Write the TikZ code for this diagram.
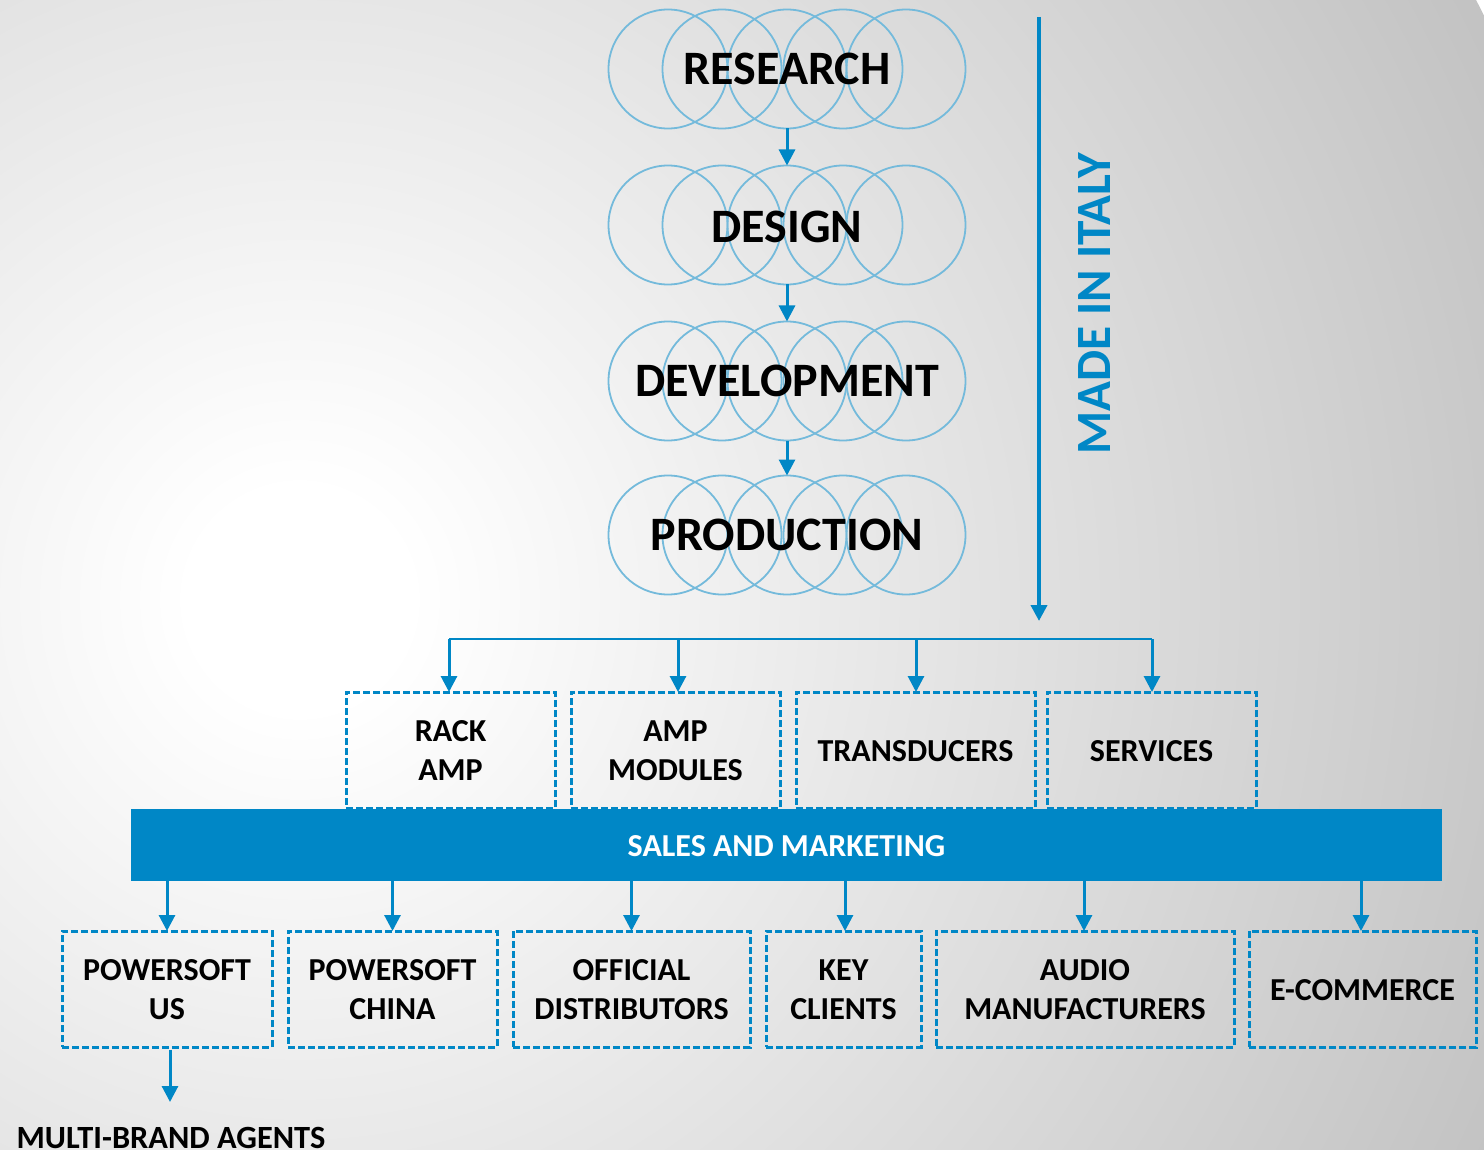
\documentclass[tikz,border=0pt]{standalone}
\usepackage{fontspec}
\setmainfont{Carlito}
\usetikzlibrary{arrows.meta,calc}
\definecolor{pblue}{HTML}{0087C6}
\definecolor{ringblue}{HTML}{74BADB}
\tikzset{
  ring/.style={circle,draw=ringblue,line width=1.8pt,minimum size=119pt,inner sep=0pt,outer sep=0pt},
  stage/.style={font=\bfseries\fontsize{48}{52}\selectfont,text=black,inner sep=0pt},
  dbox/.style={draw=pblue,line width=3pt,dash pattern=on 7pt off 3pt,inner sep=0pt,outer sep=0pt,anchor=north west},
  boxtext/.style={font=\bfseries\fontsize{32}{39}\selectfont,align=center,inner sep=0pt,text=black},
  arr/.style={draw=pblue,line width=3pt,-{Triangle[length=16pt,width=16pt]}},
  thin line/.style={draw=pblue,line width=1.8pt}
}
\newcommand{\pbox}[6]{\node[dbox,minimum width=#4 pt,minimum height=#5 pt] (#1) at (#2,#3) {};
  \node[boxtext,yshift=-1pt] (#1text) at (#1.center) {#6};}
\begin{document}
\begin{tikzpicture}[x=1pt,y=-1pt]
\useasboundingbox (0,0) rectangle (1484,1150);
\begin{scope}
  \clip (0,0) rectangle (1484,1150);
  \fill[white] (0,0) rectangle (1484,1150);
  \foreach \lev in {60,59,...,1}{
    \pgfmathsetmacro{\rad}{120+\lev*20}
    \pgfmathsetmacro{\pct}{\lev/2.55}
    \fill[black!\pct!white] (300,600) circle [radius=\rad];
  }
  \fill[white] (300,600) circle [radius=120];
\end{scope}
% circle clusters
\foreach \name/\yy in {r/69,d/225,v/381,p/535}{
  \foreach \i/\xx in {1/668,2/722,3/787,4/843,5/906}{
    \node[ring] (\name\i) at (\xx,\yy) {};
  }
}
\node[stage] (research) at (787,69) {RESEARCH};
\node[stage] (design) at (787,227) {DESIGN};
\node[stage] (development) at (787,381) {DEVELOPMENT};
\node[stage] (production) at (787,535) {PRODUCTION};
\draw[arr] (r3.south) -- (d3.north);
\draw[arr] (d3.south) -- (v3.north);
\draw[arr] (v3.south) -- (p3.north);
% made in italy
\coordinate (italytop) at (1039,17);
\coordinate (italyend) at (1039,621);
\draw[pblue,line width=3.8pt,-{Triangle[length=16pt,width=16pt]}] (italytop) -- (italyend);
\node[rotate=90,font=\bfseries\fontsize{49.3}{54}\selectfont,text=pblue,inner sep=0pt] (italy) at (1095,304) {MADE IN ITALY};
% upper boxes
\pbox{rack}{346}{692}{209}{116}{RACK\\AMP}
\pbox{modules}{571}{692}{209}{116}{AMP\\MODULES}
\pbox{trans}{796}{692}{239}{116}{TRANSDUCERS}
\pbox{serv}{1047}{692}{209}{116}{SERVICES}
% tree
\coordinate (treeL) at (449,639);
\coordinate (treeR) at (1152,639);
\draw[thin line] (treeL) -- (treeR);
\draw[arr] (treeL) -- (treeL |- rack.north);
\draw[arr] (678,639) -- (678,692);
\draw[arr] (916,639) -- (916,692);
\draw[arr] (treeR) -- (treeR |- serv.north);
% bar
\node[fill=pblue,draw=none,minimum width=1311pt,minimum height=72pt,inner sep=0pt,outer sep=0pt,anchor=north west] (bar) at (131,809) {};
\node[text=white,font=\bfseries\fontsize{32}{36}\selectfont,inner sep=0pt,yshift=-1pt] (bartext) at (bar.center) {SALES AND MARKETING};
% lower boxes
\pbox{us}{62}{931}{210}{116}{POWERSOFT\\US}
\pbox{china}{288}{931}{209}{116}{POWERSOFT\\CHINA}
\pbox{dist}{513}{931}{237}{116}{OFFICIAL\\DISTRIBUTORS}
\pbox{key}{766}{931}{155}{116}{KEY\\CLIENTS}
\pbox{audio}{936}{931}{298}{116}{AUDIO\\MANUFACTURERS}
\pbox{ecom}{1249}{931}{227}{116}{E-COMMERCE}
\draw[arr] (us.north |- bar.south) -- (us.north);
\draw[arr] (china.north |- bar.south) -- (china.north);
\draw[arr] (dist.north |- bar.south) -- (dist.north);
\draw[arr] ([xshift=1.5pt]key.north |- bar.south) -- ([xshift=1.5pt]key.north);
\draw[arr] ([xshift=-1pt]audio.north |- bar.south) -- ([xshift=-1pt]audio.north);
\draw[arr] ([xshift=-1.5pt]ecom.north |- bar.south) -- ([xshift=-1.5pt]ecom.north);
% agents
\node[font=\bfseries\fontsize{32.4}{36}\selectfont,inner sep=0pt,anchor=base,text=black] (agents) at (171,1148.5) {MULTI-BRAND AGENTS};
\draw[arr] ([xshift=3pt,yshift=-3pt]us.south) -- ([xshift=3pt]us.south |- 0,1102);
\end{tikzpicture}
\end{document}
